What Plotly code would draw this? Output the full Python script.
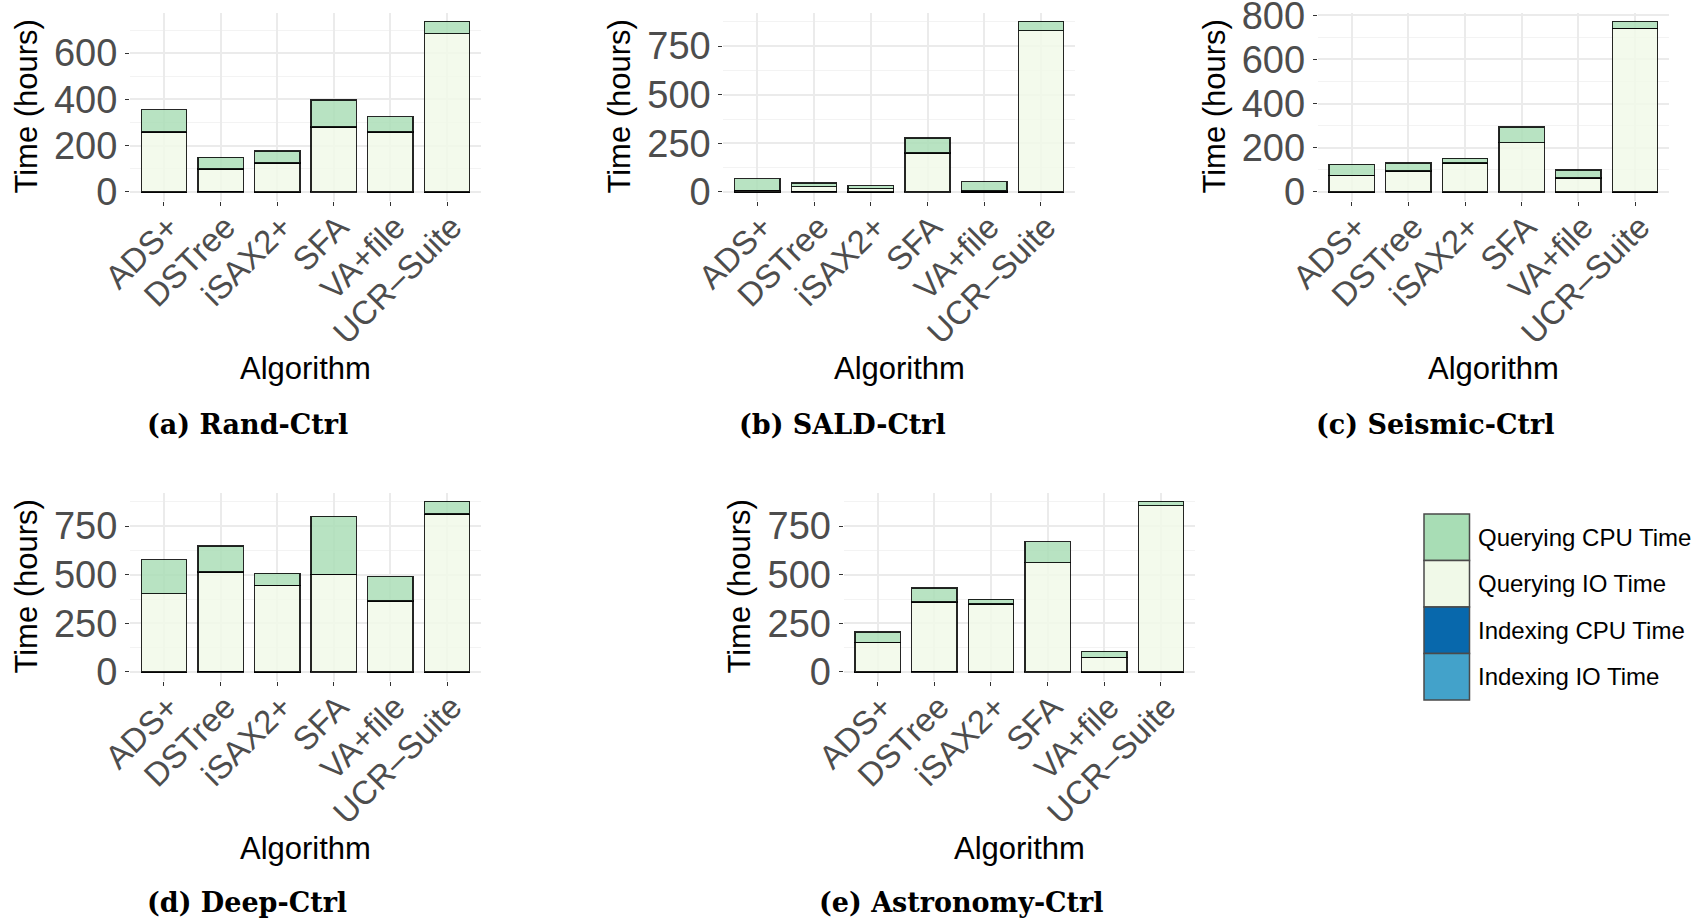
import plotly.graph_objects as go

W, H = 1700, 922

algorithms = ["ADS+", "DSTree", "iSAX2+", "SFA", "VA+file", "UCR–Suite"]

# Times in hours, one list per dataset, same order as `algorithms`
rand_query_cpu = [97, 51, 51, 117, 67, 53]
rand_query_io = [258, 96, 125, 279, 258, 685]
rand_index_cpu = [0.4, 1.5, 0.3, 0.8, 0.3, 0]
rand_index_io = [0.5, 1.5, 0.5, 1.0, 0.5, 0]

sald_query_cpu = [60, 19, 15, 77, 49.5, 48]
sald_query_io = [7, 25, 17, 199, 3.5, 830]
sald_index_cpu = [0.4, 1.5, 0.3, 0.8, 0.3, 0]
sald_index_io = [0.5, 1.5, 0.5, 1.0, 0.5, 0]

seismic_query_cpu = [49.5, 36, 20, 71, 37, 32]
seismic_query_io = [74, 92, 131, 221, 62, 741]
seismic_index_cpu = [0.4, 1.5, 0.3, 0.8, 0.3, 0]
seismic_index_io = [0.5, 1.5, 0.5, 1.0, 0.5, 0]

deep_query_cpu = [175, 132, 62, 298, 126, 65]
deep_query_io = [402, 512, 445, 500, 365, 813]
deep_index_cpu = [0.4, 1.5, 0.3, 0.8, 0.3, 0]
deep_index_io = [0.5, 1.5, 0.5, 1.0, 0.5, 0]

astro_query_cpu = [52, 72, 25, 108, 31, 22]
astro_query_io = [152, 356, 348, 561, 75, 856]
astro_index_cpu = [0.4, 1.5, 0.3, 0.8, 0.3, 0]
astro_index_io = [0.5, 1.5, 0.5, 1.0, 0.5, 0]

panel_titles = ["(a) Rand-Ctrl", "(b) SALD-Ctrl", "(c) Seismic-Ctrl",
                "(d) Deep-Ctrl", "(e) Astronomy-Ctrl"]
y_tick_steps = [200, 250, 200, 250, 250]

# stacking order, bottom to top
series_names = ["Indexing IO Time", "Indexing CPU Time",
                "Querying IO Time", "Querying CPU Time"]
panel_data = [
    [rand_index_io, rand_index_cpu, rand_query_io, rand_query_cpu],
    [sald_index_io, sald_index_cpu, sald_query_io, sald_query_cpu],
    [seismic_index_io, seismic_index_cpu, seismic_query_io, seismic_query_cpu],
    [deep_index_io, deep_index_cpu, deep_query_io, deep_query_cpu],
    [astro_index_io, astro_index_cpu, astro_query_io, astro_query_cpu],
]

colors = {
    "Querying CPU Time": "#A8DDB5",
    "Querying IO Time": "#F0F9E8",
    "Indexing CPU Time": "#0868AC",
    "Indexing IO Time": "#43A2CA",
}
FILL_ALPHA = 0.82


def rgba(hex_color, a):
    h = hex_color.lstrip("#")
    r, g, b = int(h[0:2], 16), int(h[2:4], 16), int(h[4:6], 16)
    return f"rgba({r},{g},{b},{a})"


# panel boxes in pixels: (left, right, top, bottom)
panel_boxes = [
    (130, 481, 12.7, 200.5),
    (723.3, 1075, 12.7, 200.5),
    (1317.7, 1669, 12.7, 200.5),
    (130, 481, 492.7, 680.5),
    (843.6, 1195, 492.7, 680.5),
]
ytitle_x = [27, 620, 1215, 27, 740]
xtitle_y = [368, 368, 368, 848, 848]
caption_pos = [(247, 424), (842, 424), (1435, 424), (247, 902), (961, 902)]

SANS = "Liberation Sans"
TICK_GRAY = "#4D4D4D"

fig = go.Figure()
layout = {}
annotations = []

for i, (series, step) in enumerate(zip(panel_data, y_tick_steps)):
    sfx = "" if i == 0 else str(i + 1)
    for name, vals in zip(series_names, series):
        fig.add_trace(go.Bar(
            x=algorithms, y=vals, name=name,
            xaxis="x" + sfx, yaxis="y" + sfx,
            marker=dict(color=rgba(colors[name], FILL_ALPHA),
                        line=dict(color="rgba(0,0,0,0.85)", width=1.4)),
            showlegend=False,
        ))
    totals = [sum(v) for v in zip(*series)]
    top = max(totals)
    l, r, t, b = panel_boxes[i]
    layout["xaxis" + sfx] = dict(
        domain=[l / W, r / W], anchor="y" + sfx,
        type="category", range=[-0.6, 5.6], automargin=False,
        showgrid=True, gridcolor="#EBEBEB", gridwidth=1.5,
        ticks="outside", ticklen=4, tickwidth=1, tickcolor="#333333",
        tickangle=-45, tickfont=dict(family=SANS, size=33, color=TICK_GRAY),
        ticklabelstandoff=-11, ticklabelshift=5,
        showline=False, zeroline=False,
    )
    layout["yaxis" + sfx] = dict(
        domain=[1 - b / H, 1 - t / H], anchor="x" + sfx,
        range=[-0.05 * top, 1.05 * top], automargin=False,
        tick0=0, dtick=step, ticklabeloverflow="allow",
        showgrid=True, gridcolor="#EBEBEB", gridwidth=1.5,
        minor=dict(dtick=step / 2, tick0=0, showgrid=True,
                   gridcolor="#F3F3F3", gridwidth=1, ticks=""),
        ticks="outside", ticklen=4, tickwidth=1, tickcolor="#333333",
        tickfont=dict(family=SANS, size=38, color=TICK_GRAY),
        showline=False, zeroline=False,
    )
    # axis titles
    annotations.append(dict(
        text="Time (hours)", xref="paper", yref="paper",
        x=ytitle_x[i] / W, y=1 - (t + b) / 2 / H, textangle=-90,
        xanchor="center", yanchor="middle", showarrow=False,
        font=dict(family=SANS, size=31, color="black"),
    ))
    annotations.append(dict(
        text="Algorithm", xref="paper", yref="paper",
        x=(l + r) / 2 / W, y=1 - xtitle_y[i] / H,
        xanchor="center", yanchor="middle", showarrow=False,
        font=dict(family=SANS, size=31, color="black"),
    ))
    cx, cy = caption_pos[i]
    annotations.append(dict(
        text="<b>" + panel_titles[i] + "</b>", xref="paper", yref="paper",
        x=cx / W, y=1 - cy / H, xanchor="center", yanchor="middle",
        showarrow=False,
        font=dict(family="DejaVu Serif", size=27, color="black"),
    ))

# legend block: swatches stacked top to bottom
shapes = []
legend_order = ["Querying CPU Time", "Querying IO Time",
                "Indexing CPU Time", "Indexing IO Time"]
sw_left, sw_right, sw_top, sw_h = 1424, 1469.5, 514, 46.5
for k, name in enumerate(legend_order):
    y0 = sw_top + k * sw_h
    shapes.append(dict(
        type="rect", xref="paper", yref="paper",
        x0=sw_left / W, x1=sw_right / W,
        y0=1 - (y0 + sw_h) / H, y1=1 - y0 / H,
        fillcolor=colors[name], line=dict(color="#4A4A4A", width=1.5),
    ))
    annotations.append(dict(
        text=name, xref="paper", yref="paper",
        x=1476 / W, y=1 - (y0 + sw_h / 2) / H,
        xanchor="left", yanchor="middle", showarrow=False,
        font=dict(family=SANS, size=24, color="black"),
    ))

fig.update_layout(
    **layout,
    template="none",
    barmode="stack", bargap=0.2,
    width=W, height=H,
    margin=dict(l=0, r=0, t=0, b=0, autoexpand=False),
    paper_bgcolor="white", plot_bgcolor="white",
    annotations=annotations, shapes=shapes,
    showlegend=False,
)

fig.write_html("out.html")
